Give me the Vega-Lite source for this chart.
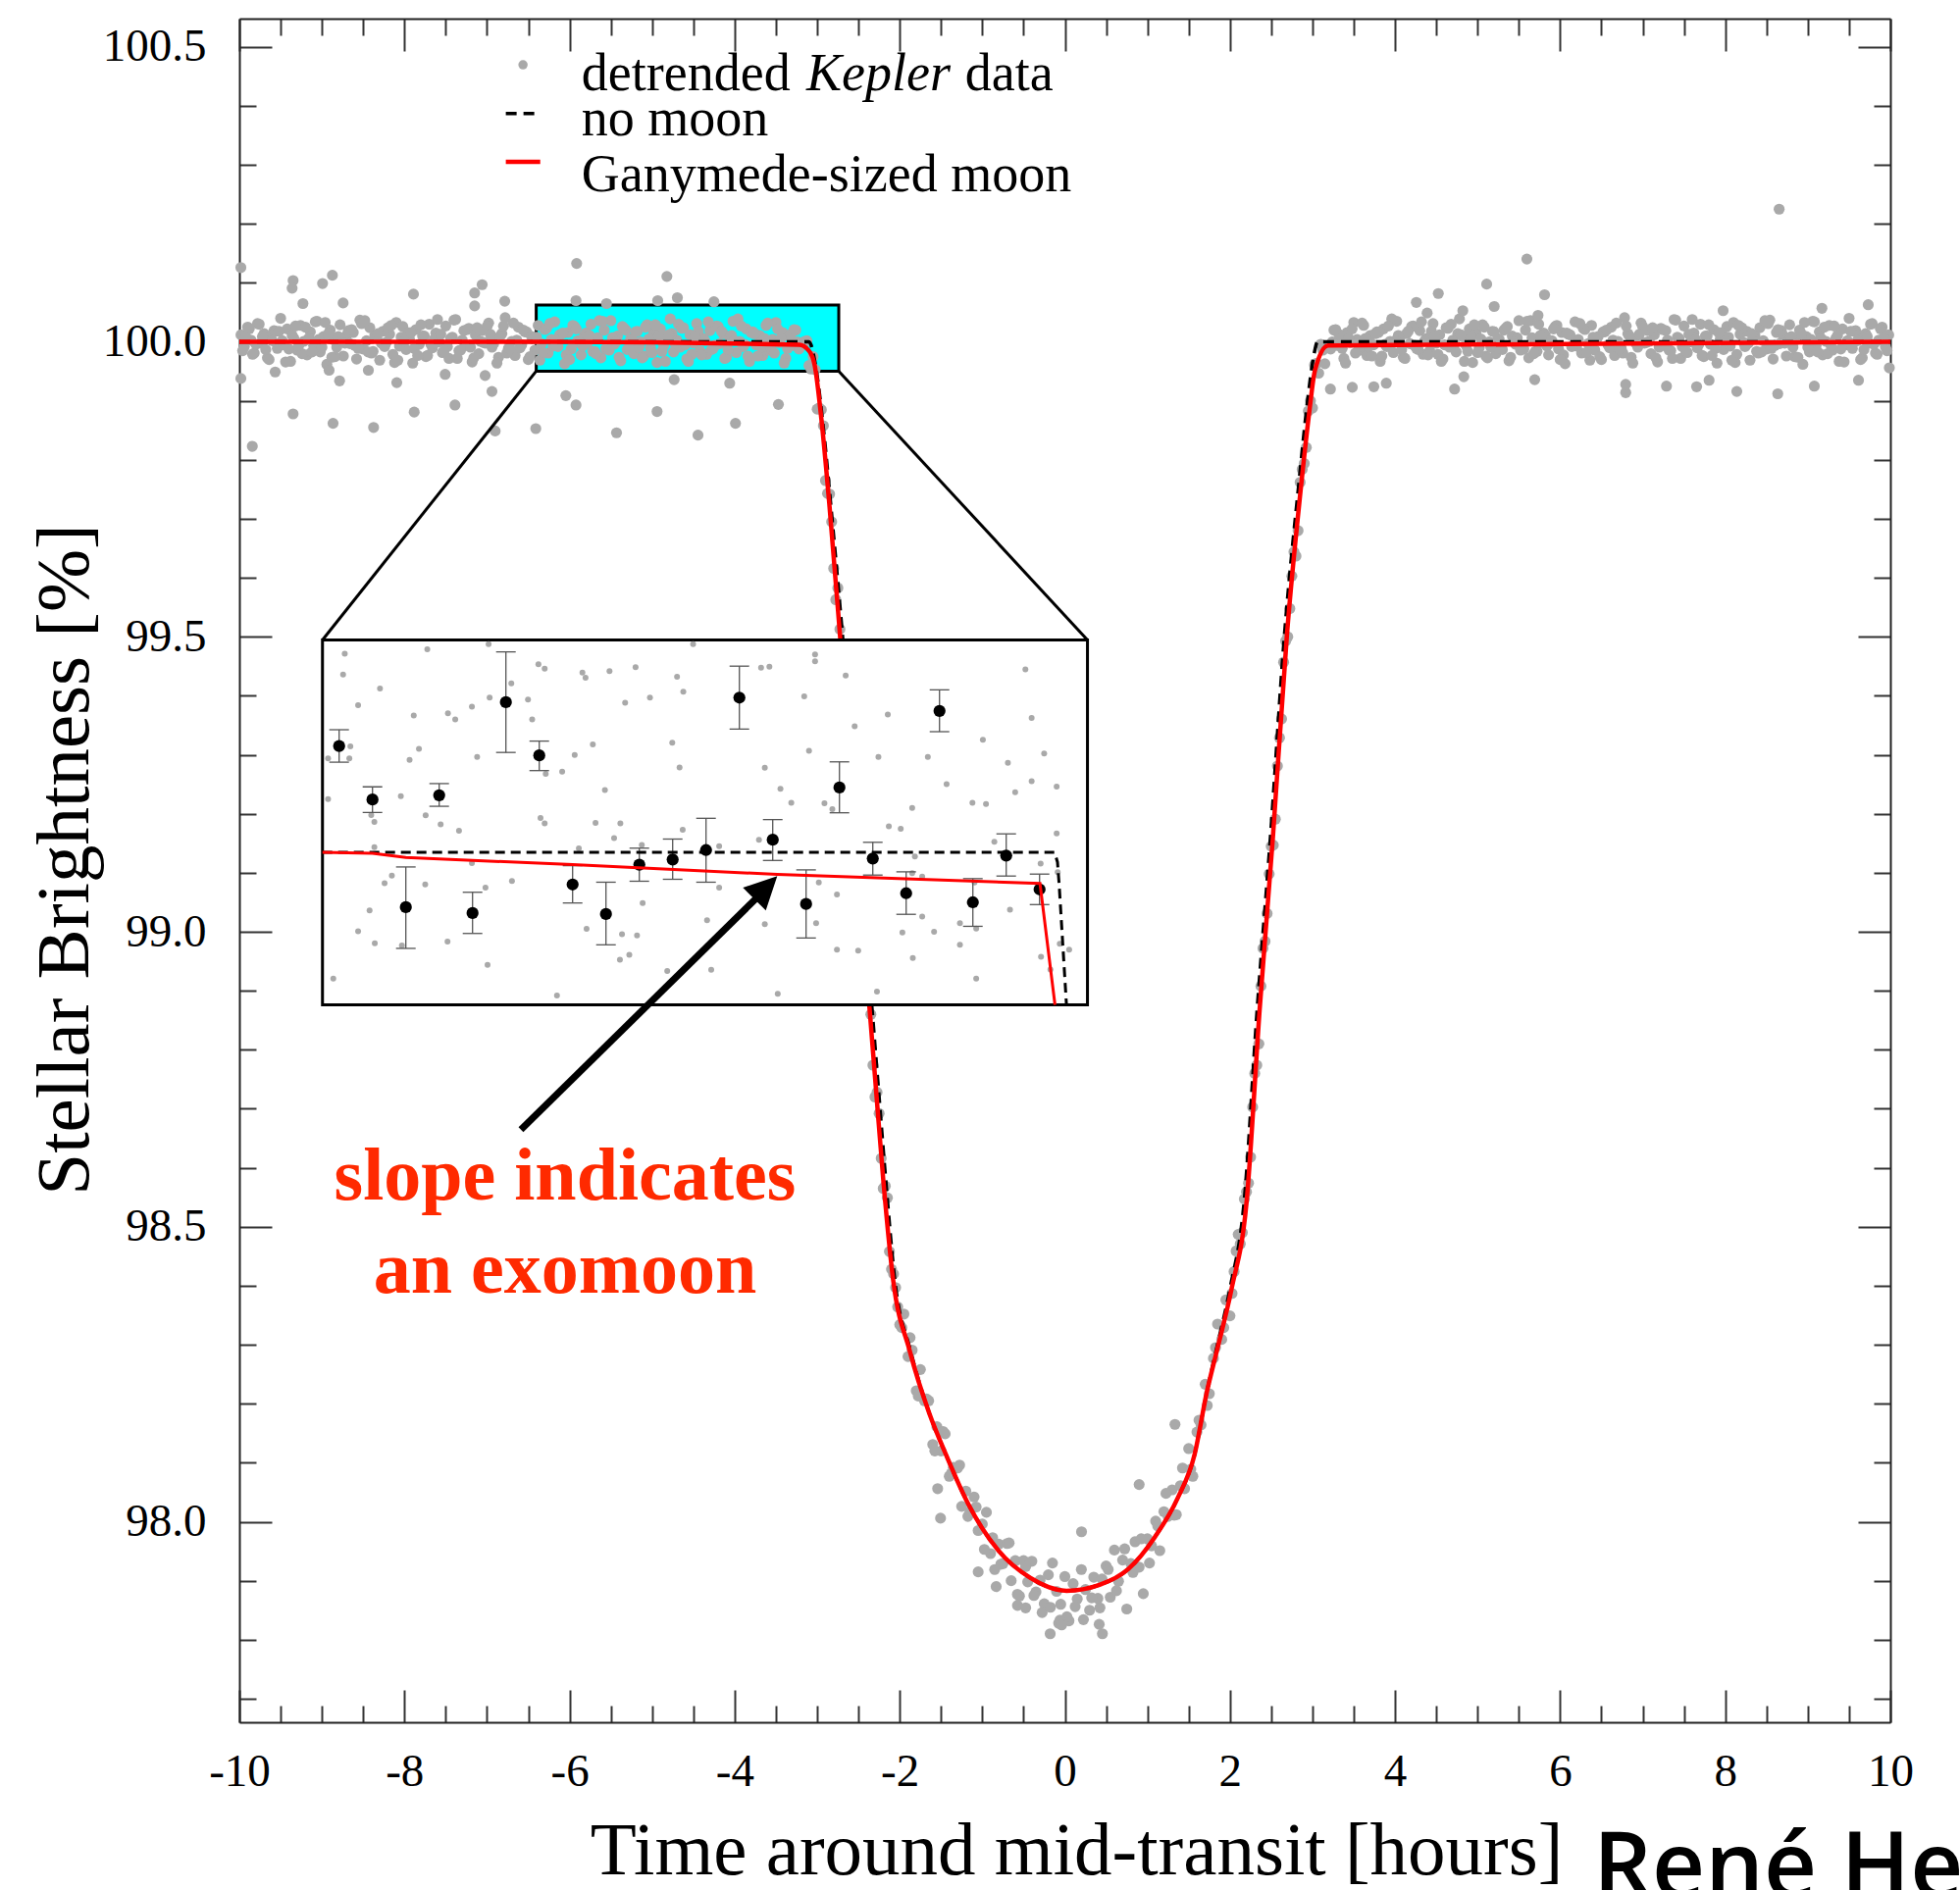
{
"$schema": "https://vega.github.io/schema/vega-lite/v6.json",
"width": 1683, "height": 1737,
"autosize": {"type": "none"},
"padding": {"left": 244, "top": 19, "right": 71, "bottom": 171},
"background": "white",
"config": {"view": {"stroke": null}},
"datasets": {
"one": [{}],
"kep": [
{"t":-9.98,"f":100.012},{"t":-9.94,"f":99.992},{"t":-9.90,"f":100.025},{"t":-9.86,"f":100.003},{"t":-9.82,"f":99.981},{"t":-9.78,"f":100.031},{"t":-9.74,"f":99.998},{"t":-9.70,"f":100.014},{"t":-9.66,"f":99.973},{"t":-9.62,"f":100.008},
{"t":-9.58,"f":100.019},{"t":-9.54,"f":99.989},{"t":-9.50,"f":100.040},{"t":-9.46,"f":99.995},{"t":-9.42,"f":100.022},{"t":-9.38,"f":99.967},{"t":-9.34,"f":100.006},{"t":-9.30,"f":99.986},{"t":-9.26,"f":100.028},{"t":-9.22,"f":100.001},
{"t":-9.18,"f":99.978},{"t":-9.14,"f":100.017},{"t":-9.10,"f":99.994},{"t":-9.06,"f":100.035},{"t":-9.02,"f":99.983},{"t":-8.98,"f":100.009},{"t":-8.94,"f":99.962},{"t":-8.90,"f":100.020},{"t":-8.86,"f":100.004},{"t":-8.82,"f":99.991},
{"t":-8.78,"f":100.029},{"t":-8.74,"f":99.976},{"t":-8.70,"f":100.011},{"t":-8.66,"f":99.997},{"t":-8.62,"f":100.016},{"t":-8.58,"f":99.971},{"t":-8.54,"f":100.037},{"t":-8.50,"f":99.988},{"t":-8.46,"f":100.002},{"t":-8.42,"f":100.024},
{"t":-8.38,"f":99.984},{"t":-8.34,"f":100.007},{"t":-8.30,"f":99.969},{"t":-8.26,"f":100.018},{"t":-8.22,"f":99.999},{"t":-8.18,"f":100.013},{"t":-8.14,"f":99.979},{"t":-8.10,"f":100.033},{"t":-8.06,"f":99.993},{"t":-8.02,"f":100.026},
{"t":-7.98,"f":99.987},{"t":-7.94,"f":100.005},{"t":-7.90,"f":99.964},{"t":-7.86,"f":100.021},{"t":-7.82,"f":99.996},{"t":-7.78,"f":100.010},{"t":-7.74,"f":99.975},{"t":-7.70,"f":100.030},{"t":-7.66,"f":99.990},{"t":-7.62,"f":100.015},
{"t":-7.58,"f":100.000},{"t":-7.54,"f":99.982},{"t":-7.50,"f":100.027},{"t":-7.46,"f":99.972},{"t":-7.42,"f":100.008},{"t":-7.38,"f":100.038},{"t":-7.34,"f":99.985},{"t":-7.30,"f":100.003},{"t":-7.26,"f":99.994},{"t":-7.22,"f":100.023},
{"t":-7.18,"f":99.966},{"t":-7.14,"f":100.012},{"t":-7.10,"f":99.980},{"t":-7.06,"f":100.019},{"t":-7.02,"f":99.998},{"t":-6.98,"f":100.032},{"t":-6.94,"f":99.991},{"t":-6.90,"f":100.006},{"t":-6.86,"f":99.974},{"t":-6.82,"f":100.014},
{"t":-6.78,"f":100.041},{"t":-6.74,"f":99.989},{"t":-6.70,"f":100.001},{"t":-6.66,"f":99.977},{"t":-6.62,"f":100.025},{"t":-6.58,"f":99.995},{"t":-6.54,"f":100.017},{"t":-6.50,"f":99.970},{"t":-6.46,"f":100.009},{"t":-6.42,"f":99.986},
{"t":-6.38,"f":100.028},{"t":-6.34,"f":99.997},{"t":-6.30,"f":100.021},{"t":-6.26,"f":99.981},{"t":-6.22,"f":100.004},{"t":-6.18,"f":100.034},{"t":-6.14,"f":99.992},{"t":-6.10,"f":100.013},{"t":-6.06,"f":99.963},{"t":-6.02,"f":100.016},
{"t":-5.98,"f":99.988},{"t":-5.94,"f":100.026},{"t":-5.90,"f":100.002},{"t":-5.86,"f":99.978},{"t":-5.82,"f":100.011},{"t":-5.78,"f":99.999},{"t":-5.74,"f":100.030},{"t":-5.70,"f":99.984},{"t":-5.66,"f":100.007},{"t":-5.62,"f":99.973},
{"t":-5.58,"f":100.020},{"t":-5.54,"f":99.993},{"t":-5.50,"f":100.036},{"t":-5.46,"f":99.996},{"t":-5.42,"f":100.010},{"t":-5.38,"f":99.968},{"t":-5.34,"f":100.023},{"t":-5.30,"f":99.987},{"t":-5.26,"f":100.005},{"t":-5.22,"f":99.980},
{"t":-5.18,"f":100.018},{"t":-5.14,"f":100.000},{"t":-5.10,"f":99.976},{"t":-5.06,"f":100.029},{"t":-5.02,"f":99.990},{"t":-4.98,"f":100.015},{"t":-4.94,"f":99.965},{"t":-4.90,"f":100.022},{"t":-4.86,"f":99.994},{"t":-4.82,"f":100.009},
{"t":-4.78,"f":100.039},{"t":-4.74,"f":99.983},{"t":-4.70,"f":100.003},{"t":-4.66,"f":99.991},{"t":-4.62,"f":100.024},{"t":-4.58,"f":99.971},{"t":-4.54,"f":100.012},{"t":-4.50,"f":99.998},{"t":-4.46,"f":100.031},{"t":-4.42,"f":99.985},
{"t":-4.38,"f":100.006},{"t":-4.34,"f":99.979},{"t":-4.30,"f":100.019},{"t":-4.26,"f":99.989},{"t":-4.22,"f":100.027},{"t":-4.18,"f":99.997},{"t":-4.14,"f":100.014},{"t":-4.10,"f":99.974},{"t":-4.06,"f":100.008},{"t":-4.02,"f":100.035},
{"t":-3.98,"f":99.982},{"t":-3.94,"f":100.001},{"t":-3.90,"f":99.992},{"t":-3.86,"f":100.022},{"t":-3.82,"f":99.967},{"t":-3.78,"f":100.017},{"t":-3.74,"f":99.995},{"t":-3.70,"f":100.011},{"t":-3.66,"f":99.977},{"t":-3.62,"f":100.028},
{"t":-3.58,"f":99.986},{"t":-3.54,"f":100.004},{"t":-3.50,"f":100.033},{"t":-3.46,"f":99.999},{"t":-3.42,"f":100.016},{"t":-3.38,"f":99.972},{"t":-3.34,"f":100.010},{"t":-3.30,"f":99.994},{"t":-3.26,"f":100.020},{"t":-3.22,"f":99.988},
{"t":-9.96,"f":99.985},{"t":-9.88,"f":100.022},{"t":-9.80,"f":99.996},{"t":-9.72,"f":100.009},{"t":-9.64,"f":99.970},{"t":-9.56,"f":100.018},{"t":-9.48,"f":100.002},{"t":-9.40,"f":99.988},{"t":-9.32,"f":100.027},{"t":-9.24,"f":99.980},
{"t":-9.16,"f":100.006},{"t":-9.08,"f":100.034},{"t":-9.00,"f":99.991},{"t":-8.92,"f":100.014},{"t":-8.84,"f":99.975},{"t":-8.76,"f":100.000},{"t":-8.68,"f":100.019},{"t":-8.60,"f":99.994},{"t":-8.52,"f":100.031},{"t":-8.44,"f":99.983},
{"t":-8.36,"f":100.011},{"t":-8.28,"f":99.998},{"t":-8.20,"f":100.024},{"t":-8.12,"f":99.965},{"t":-8.04,"f":100.008},{"t":-7.96,"f":100.016},{"t":-7.88,"f":99.989},{"t":-7.80,"f":100.029},{"t":-7.72,"f":99.977},{"t":-7.64,"f":100.004},
{"t":-7.56,"f":100.013},{"t":-7.48,"f":99.992},{"t":-7.40,"f":100.037},{"t":-7.32,"f":99.986},{"t":-7.24,"f":100.021},{"t":-7.16,"f":99.973},{"t":-7.08,"f":100.001},{"t":-7.00,"f":100.026},{"t":-6.92,"f":99.997},{"t":-6.84,"f":100.010},
{"t":-6.76,"f":99.981},{"t":-6.68,"f":100.032},{"t":-6.60,"f":99.990},{"t":-6.52,"f":100.017},{"t":-6.44,"f":100.005},{"t":-6.36,"f":99.969},{"t":-6.28,"f":100.023},{"t":-6.20,"f":99.993},{"t":-6.12,"f":100.012},{"t":-6.04,"f":99.978},
{"t":-5.96,"f":100.028},{"t":-5.88,"f":99.999},{"t":-5.80,"f":100.015},{"t":-5.72,"f":99.984},{"t":-5.64,"f":100.036},{"t":-5.56,"f":99.988},{"t":-5.48,"f":100.007},{"t":-5.40,"f":99.974},{"t":-5.32,"f":100.020},{"t":-5.24,"f":100.003},
{"t":-5.16,"f":99.991},{"t":-5.08,"f":100.025},{"t":-5.00,"f":99.982},{"t":-4.92,"f":100.009},{"t":-4.84,"f":99.967},{"t":-4.76,"f":100.014},{"t":-4.68,"f":100.030},{"t":-4.60,"f":99.995},{"t":-4.52,"f":99.979},{"t":-4.44,"f":100.018},
{"t":-4.36,"f":100.002},{"t":-4.28,"f":99.987},{"t":-4.20,"f":100.026},{"t":-4.12,"f":99.972},{"t":-4.04,"f":100.011},{"t":-3.96,"f":100.039},{"t":-3.88,"f":99.996},{"t":-3.80,"f":100.016},{"t":-3.72,"f":99.976},{"t":-3.64,"f":100.006},
{"t":-3.56,"f":99.989},{"t":-3.48,"f":100.022},{"t":-3.40,"f":99.964},{"t":-3.32,"f":100.013},{"t":-3.24,"f":100.000},
{"t":-9.92,"f":100.007},{"t":-9.84,"f":99.979},{"t":-9.76,"f":100.030},{"t":-9.68,"f":99.987},{"t":-9.60,"f":100.002},{"t":-9.52,"f":100.018},{"t":-9.44,"f":99.966},{"t":-9.36,"f":100.011},{"t":-9.28,"f":99.994},{"t":-9.20,"f":100.025},
{"t":-9.12,"f":99.983},{"t":-9.04,"f":100.004},{"t":-8.96,"f":100.033},{"t":-8.88,"f":99.974},{"t":-8.80,"f":100.009},{"t":-8.72,"f":99.998},{"t":-8.64,"f":100.021},{"t":-8.56,"f":99.989},{"t":-8.48,"f":100.036},{"t":-8.40,"f":99.981},
{"t":-8.32,"f":100.014},{"t":-8.24,"f":99.992},{"t":-8.16,"f":100.028},{"t":-8.08,"f":99.969},{"t":-8.00,"f":100.001},{"t":-7.92,"f":100.016},{"t":-7.84,"f":99.977},{"t":-7.76,"f":100.010},{"t":-7.68,"f":99.996},{"t":-7.60,"f":100.038},
{"t":-7.52,"f":99.985},{"t":-7.44,"f":100.006},{"t":-7.36,"f":99.972},{"t":-7.28,"f":100.019},{"t":-7.20,"f":99.991},{"t":-7.12,"f":100.024},{"t":-7.04,"f":99.999},{"t":-6.96,"f":100.013},{"t":-6.88,"f":99.964},{"t":-6.80,"f":100.027},
{"t":-6.72,"f":99.988},{"t":-6.64,"f":100.003},{"t":-6.56,"f":100.020},{"t":-6.48,"f":99.975},{"t":-6.40,"f":100.008},{"t":-6.32,"f":99.982},{"t":-6.24,"f":100.031},{"t":-6.16,"f":99.995},{"t":-6.08,"f":100.015},{"t":-6.00,"f":99.970},
{"t":-5.92,"f":100.022},{"t":-5.84,"f":99.993},{"t":-5.76,"f":100.011},{"t":-5.68,"f":99.980},{"t":-5.60,"f":100.035},{"t":-5.52,"f":99.986},{"t":-5.44,"f":100.000},{"t":-5.36,"f":100.026},{"t":-5.28,"f":99.990},{"t":-5.20,"f":100.017},
{"t":-5.12,"f":99.973},{"t":-5.04,"f":100.005},{"t":-4.96,"f":100.029},{"t":-4.88,"f":99.984},{"t":-4.80,"f":100.012},{"t":-4.72,"f":99.997},{"t":-4.64,"f":100.023},{"t":-4.56,"f":99.967},{"t":-4.48,"f":100.009},{"t":-4.40,"f":99.978},
{"t":-4.32,"f":100.034},{"t":-4.24,"f":99.994},{"t":-4.16,"f":100.018},{"t":-4.08,"f":99.987},{"t":-4.00,"f":100.002},{"t":-3.92,"f":100.027},{"t":-3.84,"f":99.976},{"t":-3.76,"f":100.014},{"t":-3.68,"f":99.992},{"t":-3.60,"f":100.032},
{"t":-3.52,"f":99.981},{"t":-3.44,"f":100.006},{"t":-3.36,"f":99.989},{"t":-3.28,"f":100.021},
{"t":-9.982,"f":100.126},{"t":-9.349,"f":100.104},{"t":-9.361,"f":100.091},{"t":-8.992,"f":100.099},{"t":-8.873,"f":100.113},{"t":-9.23,"f":100.065},{"t":-8.743,"f":100.066},{"t":-7.891,"f":100.081},{"t":-7.059,"f":100.097},{"t":-7.15,"f":100.083},
{"t":-7.15,"f":100.061},{"t":-6.785,"f":100.069},{"t":-5.914,"f":100.133},{"t":-4.821,"f":100.111},{"t":-4.694,"f":100.075},{"t":-5.922,"f":100.07},{"t":-5.553,"f":100.065},{"t":-4.932,"f":100.07},{"t":-4.251,"f":100.068},{"t":-9.843,"f":99.823},
{"t":-9.349,"f":99.878},{"t":-8.865,"f":99.862},{"t":-8.374,"f":99.855},{"t":-7.882,"f":99.881},{"t":-7.388,"f":99.893},{"t":-6.901,"f":99.849},{"t":-6.94,"f":99.916},{"t":-6.409,"f":99.853},{"t":-6.045,"f":99.909},{"t":-5.922,"f":99.893},
{"t":-5.431,"f":99.846},{"t":-4.94,"f":99.882},{"t":-4.444,"f":99.842},{"t":-4.733,"f":99.936},{"t":-4.06,"f":99.93},{"t":-9.982,"f":99.938},{"t":-8.786,"f":99.934},{"t":-8.093,"f":99.931},{"t":-7.023,"f":99.943},{"t":-9.566,"f":99.949},
{"t":-8.913,"f":99.952},{"t":-8.437,"f":99.952},{"t":-7.507,"f":99.945},{"t":-3.99,"f":99.862},{"t":-3.47,"f":99.894},
{"t":-3.15,"f":100.001},{"t":-3.10,"f":99.960},{"t":-3.05,"f":99.975},{"t":-3.00,"f":99.886},{"t":-2.95,"f":99.885},{"t":-2.90,"f":99.765},{"t":-2.85,"f":99.742},{"t":-2.80,"f":99.616},{"t":-2.75,"f":99.583},{"t":-2.70,"f":99.448},
{"t":-2.65,"f":99.398},{"t":-2.60,"f":99.235},{"t":-2.55,"f":99.200},{"t":-2.50,"f":99.083},{"t":-2.45,"f":99.046},{"t":-2.40,"f":98.921},{"t":-2.35,"f":98.860},{"t":-2.30,"f":98.720},{"t":-2.25,"f":98.692},{"t":-2.20,"f":98.565},
{"t":-2.15,"f":98.549},{"t":-2.10,"f":98.428},{"t":-2.05,"f":98.397},{"t":-2.00,"f":98.334},{"t":-1.95,"f":98.352},{"t":-1.90,"f":98.280},{"t":-1.85,"f":98.291},{"t":-1.80,"f":98.222},{"t":-1.75,"f":98.258},{"t":-1.70,"f":98.205},
{"t":-1.65,"f":98.205},{"t":-1.60,"f":98.131},{"t":-1.55,"f":98.161},{"t":-1.50,"f":98.120},{"t":-1.45,"f":98.149},{"t":-1.40,"f":98.077},{"t":-1.35,"f":98.092},{"t":-1.30,"f":98.091},{"t":-1.25,"f":98.026},{"t":-1.20,"f":98.052},
{"t":-1.15,"f":98.017},{"t":-1.10,"f":98.042},{"t":-1.05,"f":97.985},{"t":-1.00,"f":97.996},{"t":-0.95,"f":98.016},{"t":-0.90,"f":97.946},{"t":-0.85,"f":97.919},{"t":-0.80,"f":97.962},{"t":-0.75,"f":97.929},{"t":-0.70,"f":97.963},
{"t":-0.65,"f":97.900},{"t":-0.60,"f":97.934},{"t":-0.55,"f":97.874},{"t":-0.50,"f":97.934},{"t":-0.45,"f":97.898},{"t":-0.40,"f":97.933},{"t":-0.35,"f":97.881},{"t":-0.30,"f":97.901},{"t":-0.25,"f":97.861},{"t":-0.20,"f":97.910},
{"t":-0.15,"f":97.930},{"t":-0.10,"f":97.882},{"t":-0.05,"f":97.860},{"t":0.00,"f":97.907},{"t":0.05,"f":97.832},{"t":0.10,"f":97.895},{"t":0.15,"f":97.869},{"t":0.20,"f":97.919},{"t":0.25,"f":97.885},{"t":0.30,"f":97.850},
{"t":0.35,"f":97.906},{"t":0.40,"f":97.870},{"t":0.45,"f":97.903},{"t":0.50,"f":97.925},{"t":0.55,"f":97.872},{"t":0.60,"f":97.952},{"t":0.65,"f":97.899},{"t":0.70,"f":97.935},{"t":0.75,"f":97.852},{"t":0.80,"f":97.929},
{"t":0.85,"f":97.966},{"t":0.90,"f":97.923},{"t":0.95,"f":97.878},{"t":1.00,"f":97.971},{"t":1.05,"f":97.959},{"t":1.10,"f":98.001},{"t":1.15,"f":97.951},{"t":1.20,"f":98.017},{"t":1.25,"f":98.009},{"t":1.30,"f":98.054},
{"t":1.35,"f":98.012},{"t":1.40,"f":98.061},{"t":1.45,"f":98.056},{"t":1.50,"f":98.124},{"t":1.55,"f":98.077},{"t":1.60,"f":98.152},{"t":1.65,"f":98.164},{"t":1.70,"f":98.233},{"t":1.75,"f":98.217},{"t":1.80,"f":98.277},
{"t":1.85,"f":98.335},{"t":1.90,"f":98.309},{"t":1.95,"f":98.376},{"t":2.00,"f":98.349},{"t":2.05,"f":98.424},{"t":2.10,"f":98.487},{"t":2.15,"f":98.490},{"t":2.20,"f":98.559},{"t":2.25,"f":98.618},{"t":2.30,"f":98.760},
{"t":2.35,"f":98.810},{"t":2.40,"f":98.972},{"t":2.45,"f":99.031},{"t":2.50,"f":99.145},{"t":2.55,"f":99.191},{"t":2.60,"f":99.329},{"t":2.65,"f":99.457},{"t":2.70,"f":99.500},{"t":2.75,"f":99.603},{"t":2.80,"f":99.637},
{"t":2.85,"f":99.762},{"t":2.90,"f":99.794},{"t":2.95,"f":99.883},{"t":3.00,"f":99.888},{"t":3.05,"f":99.964},{"t":3.10,"f":99.996},{"t":3.15,"f":99.963},
{"t":-1.975,"f":98.329},{"t":-1.875,"f":98.312},{"t":-1.775,"f":98.213},{"t":-1.675,"f":98.208},{"t":-1.575,"f":98.120},{"t":-1.475,"f":98.153},{"t":-1.375,"f":98.082},{"t":-1.275,"f":98.096},{"t":-1.175,"f":98.009},{"t":-1.075,"f":98.025},
{"t":-0.975,"f":97.953},{"t":-0.875,"f":97.973},{"t":-0.775,"f":97.928},{"t":-0.675,"f":97.964},{"t":-0.575,"f":97.877},{"t":-0.475,"f":97.924},{"t":-0.375,"f":97.875},{"t":-0.275,"f":97.846},{"t":-0.175,"f":97.855},{"t":-0.075,"f":97.828},
{"t":0.025,"f":97.839},{"t":0.125,"f":97.856},{"t":0.225,"f":97.834},{"t":0.325,"f":97.871},{"t":0.425,"f":97.854},{"t":0.525,"f":97.919},{"t":0.625,"f":97.883},{"t":0.725,"f":97.954},{"t":0.825,"f":97.914},{"t":0.925,"f":97.971},
{"t":1.025,"f":97.930},{"t":1.125,"f":97.993},{"t":1.225,"f":98.048},{"t":1.325,"f":98.011},{"t":1.425,"f":98.091},{"t":1.525,"f":98.089},{"t":1.625,"f":98.172},{"t":1.725,"f":98.197},{"t":1.825,"f":98.295},{"t":1.925,"f":98.329},
{"t":-3.125,"f":100.002},{"t":-3.075,"f":99.954},{"t":-3.025,"f":99.953},{"t":-2.975,"f":99.888},{"t":-2.925,"f":99.858},{"t":-2.875,"f":99.743},{"t":-2.825,"f":99.695},{"t":-2.775,"f":99.563},{"t":-2.725,"f":99.513},{"t":-2.675,"f":99.436},
{"t":-2.625,"f":99.313},{"t":-2.575,"f":99.265},{"t":-2.525,"f":99.141},{"t":-2.475,"f":99.074},{"t":-2.425,"f":98.953},{"t":-2.375,"f":98.897},{"t":-2.325,"f":98.774},{"t":-2.275,"f":98.728},{"t":-2.225,"f":98.616},{"t":-2.175,"f":98.569},
{"t":-2.125,"f":98.458},{"t":-2.075,"f":98.420},{"t":-2.025,"f":98.364},
{"t":2.025,"f":98.387},{"t":2.075,"f":98.459},{"t":2.125,"f":98.471},{"t":2.175,"f":98.547},{"t":2.225,"f":98.574},{"t":2.275,"f":98.703},{"t":2.325,"f":98.774},{"t":2.375,"f":98.908},{"t":2.425,"f":98.984},{"t":2.475,"f":99.098},
{"t":2.525,"f":99.147},{"t":2.575,"f":99.281},{"t":2.625,"f":99.361},{"t":2.675,"f":99.493},{"t":2.725,"f":99.548},{"t":2.775,"f":99.644},{"t":2.825,"f":99.680},{"t":2.875,"f":99.784},{"t":2.925,"f":99.821},{"t":2.975,"f":99.900},
{"t":3.025,"f":99.961},{"t":3.075,"f":99.947},{"t":3.125,"f":99.986},
{"t":-0.178,"f":97.810},{"t":0.455,"f":97.810},{"t":0.416,"f":97.826},{"t":0.202,"f":97.983},{"t":0.9,"f":98.063},{"t":1.334,"f":98.165},{"t":-1.506,"f":98.006},{"t":-1.541,"f":98.056},{"t":-0.574,"f":97.858},{"t":-0.475,"f":97.854},
{"t":-0.059,"f":97.833},{"t":-0.039,"f":97.825},{"t":-1.05,"f":97.915},{"t":-0.832,"f":97.890},
{"t":3.22,"f":99.988},{"t":3.26,"f":100.020},{"t":3.30,"f":99.994},{"t":3.34,"f":100.010},{"t":3.38,"f":99.972},{"t":3.42,"f":100.016},{"t":3.46,"f":99.999},{"t":3.50,"f":100.033},{"t":3.54,"f":100.004},{"t":3.58,"f":99.986},
{"t":3.62,"f":100.028},{"t":3.66,"f":99.977},{"t":3.70,"f":100.011},{"t":3.74,"f":99.995},{"t":3.78,"f":100.017},{"t":3.82,"f":99.967},{"t":3.86,"f":100.022},{"t":3.90,"f":99.992},{"t":3.94,"f":100.001},{"t":3.98,"f":99.982},
{"t":4.02,"f":100.035},{"t":4.06,"f":100.008},{"t":4.10,"f":99.974},{"t":4.14,"f":100.014},{"t":4.18,"f":99.997},{"t":4.22,"f":100.027},{"t":4.26,"f":99.989},{"t":4.30,"f":100.019},{"t":4.34,"f":99.979},{"t":4.38,"f":100.006},
{"t":4.42,"f":99.985},{"t":4.46,"f":100.031},{"t":4.50,"f":99.998},{"t":4.54,"f":100.012},{"t":4.58,"f":99.971},{"t":4.62,"f":100.024},{"t":4.66,"f":99.991},{"t":4.70,"f":100.003},{"t":4.74,"f":99.983},{"t":4.78,"f":100.039},
{"t":4.82,"f":100.009},{"t":4.86,"f":99.994},{"t":4.90,"f":100.022},{"t":4.94,"f":99.965},{"t":4.98,"f":100.015},{"t":5.02,"f":99.990},{"t":5.06,"f":100.029},{"t":5.10,"f":99.976},{"t":5.14,"f":100.000},{"t":5.18,"f":100.018},
{"t":5.22,"f":99.980},{"t":5.26,"f":100.005},{"t":5.30,"f":99.987},{"t":5.34,"f":100.023},{"t":5.38,"f":99.968},{"t":5.42,"f":100.010},{"t":5.46,"f":99.996},{"t":5.50,"f":100.036},{"t":5.54,"f":99.993},{"t":5.58,"f":100.020},
{"t":5.62,"f":99.973},{"t":5.66,"f":100.007},{"t":5.70,"f":99.984},{"t":5.74,"f":100.030},{"t":5.78,"f":99.999},{"t":5.82,"f":100.011},{"t":5.86,"f":99.978},{"t":5.90,"f":100.002},{"t":5.94,"f":100.026},{"t":5.98,"f":99.988},
{"t":6.02,"f":100.016},{"t":6.06,"f":99.963},{"t":6.10,"f":100.013},{"t":6.14,"f":99.992},{"t":6.18,"f":100.034},{"t":6.22,"f":100.004},{"t":6.26,"f":99.981},{"t":6.30,"f":100.021},{"t":6.34,"f":99.997},{"t":6.38,"f":100.028},
{"t":6.42,"f":99.986},{"t":6.46,"f":100.009},{"t":6.50,"f":99.970},{"t":6.54,"f":100.017},{"t":6.58,"f":99.995},{"t":6.62,"f":100.025},{"t":6.66,"f":99.977},{"t":6.70,"f":100.001},{"t":6.74,"f":99.989},{"t":6.78,"f":100.041},
{"t":6.82,"f":100.014},{"t":6.86,"f":99.974},{"t":6.90,"f":100.006},{"t":6.94,"f":99.991},{"t":6.98,"f":100.032},{"t":7.02,"f":99.998},{"t":7.06,"f":100.019},{"t":7.10,"f":99.980},{"t":7.14,"f":100.012},{"t":7.18,"f":99.966},
{"t":7.22,"f":100.023},{"t":7.26,"f":99.994},{"t":7.30,"f":100.003},{"t":7.34,"f":99.985},{"t":7.38,"f":100.038},{"t":7.42,"f":100.008},{"t":7.46,"f":99.972},{"t":7.50,"f":100.027},{"t":7.54,"f":99.982},{"t":7.58,"f":100.000},
{"t":7.62,"f":100.015},{"t":7.66,"f":99.990},{"t":7.70,"f":100.030},{"t":7.74,"f":99.975},{"t":7.78,"f":100.010},{"t":7.82,"f":99.996},{"t":7.86,"f":100.021},{"t":7.90,"f":99.964},{"t":7.94,"f":100.005},{"t":7.98,"f":99.987},
{"t":8.02,"f":100.026},{"t":8.06,"f":99.993},{"t":8.10,"f":100.033},{"t":8.14,"f":99.979},{"t":8.18,"f":100.013},{"t":8.22,"f":99.999},{"t":8.26,"f":100.018},{"t":8.30,"f":99.969},{"t":8.34,"f":100.007},{"t":8.38,"f":99.984},
{"t":8.42,"f":100.024},{"t":8.46,"f":100.002},{"t":8.50,"f":99.988},{"t":8.54,"f":100.037},{"t":8.58,"f":99.971},{"t":8.62,"f":100.016},{"t":8.66,"f":99.997},{"t":8.70,"f":100.011},{"t":8.74,"f":99.976},{"t":8.78,"f":100.029},
{"t":8.82,"f":99.991},{"t":8.86,"f":100.004},{"t":8.90,"f":100.020},{"t":8.94,"f":99.962},{"t":8.98,"f":100.009},{"t":9.02,"f":99.983},{"t":9.06,"f":100.035},{"t":9.10,"f":99.994},{"t":9.14,"f":100.017},{"t":9.18,"f":99.978},
{"t":9.22,"f":100.001},{"t":9.26,"f":100.028},{"t":9.30,"f":99.986},{"t":9.34,"f":100.006},{"t":9.38,"f":99.967},{"t":9.42,"f":100.022},{"t":9.46,"f":99.995},{"t":9.50,"f":100.040},{"t":9.54,"f":99.989},{"t":9.58,"f":100.019},
{"t":9.62,"f":100.008},{"t":9.66,"f":99.973},{"t":9.70,"f":100.014},{"t":9.74,"f":99.998},{"t":9.78,"f":100.031},{"t":9.82,"f":99.981},{"t":9.86,"f":100.003},{"t":9.90,"f":100.025},{"t":9.94,"f":99.992},{"t":9.98,"f":100.012},
{"t":3.24,"f":100.000},{"t":3.32,"f":100.013},{"t":3.40,"f":99.964},{"t":3.48,"f":100.022},{"t":3.56,"f":99.989},{"t":3.64,"f":100.006},{"t":3.72,"f":99.976},{"t":3.80,"f":100.016},{"t":3.88,"f":99.996},{"t":3.96,"f":100.039},
{"t":4.04,"f":100.011},{"t":4.12,"f":99.972},{"t":4.20,"f":100.026},{"t":4.28,"f":99.987},{"t":4.36,"f":100.002},{"t":4.44,"f":100.018},{"t":4.52,"f":99.979},{"t":4.60,"f":99.995},{"t":4.68,"f":100.030},{"t":4.76,"f":100.014},
{"t":4.84,"f":99.967},{"t":4.92,"f":100.009},{"t":5.00,"f":99.982},{"t":5.08,"f":100.025},{"t":5.16,"f":99.991},{"t":5.24,"f":100.003},{"t":5.32,"f":100.020},{"t":5.40,"f":99.974},{"t":5.48,"f":100.007},{"t":5.56,"f":99.988},
{"t":5.64,"f":100.036},{"t":5.72,"f":99.984},{"t":5.80,"f":100.015},{"t":5.88,"f":99.999},{"t":5.96,"f":100.028},{"t":6.04,"f":99.978},{"t":6.12,"f":100.012},{"t":6.20,"f":99.993},{"t":6.28,"f":100.023},{"t":6.36,"f":99.969},
{"t":6.44,"f":100.005},{"t":6.52,"f":100.017},{"t":6.60,"f":99.990},{"t":6.68,"f":100.032},{"t":6.76,"f":99.981},{"t":6.84,"f":100.010},{"t":6.92,"f":99.997},{"t":7.00,"f":100.026},{"t":7.08,"f":100.001},{"t":7.16,"f":99.973},
{"t":7.24,"f":100.021},{"t":7.32,"f":99.986},{"t":7.40,"f":100.037},{"t":7.48,"f":99.992},{"t":7.56,"f":100.013},{"t":7.64,"f":100.004},{"t":7.72,"f":99.977},{"t":7.80,"f":100.029},{"t":7.88,"f":99.989},{"t":7.96,"f":100.016},
{"t":8.04,"f":100.008},{"t":8.12,"f":99.965},{"t":8.20,"f":100.024},{"t":8.28,"f":99.998},{"t":8.36,"f":100.011},{"t":8.44,"f":99.983},{"t":8.52,"f":100.031},{"t":8.60,"f":99.994},{"t":8.68,"f":100.019},{"t":8.76,"f":100.000},
{"t":8.84,"f":99.975},{"t":8.92,"f":100.014},{"t":9.00,"f":99.991},{"t":9.08,"f":100.034},{"t":9.16,"f":100.006},{"t":9.24,"f":99.980},{"t":9.32,"f":100.027},{"t":9.40,"f":99.988},{"t":9.48,"f":100.002},{"t":9.56,"f":100.018},
{"t":9.64,"f":99.970},{"t":9.72,"f":100.009},{"t":9.80,"f":99.996},{"t":9.88,"f":100.022},{"t":9.96,"f":99.985},
{"t":3.28,"f":100.021},{"t":3.36,"f":99.989},{"t":3.44,"f":100.006},{"t":3.52,"f":99.981},{"t":3.60,"f":100.032},{"t":3.68,"f":99.992},{"t":3.76,"f":100.014},{"t":3.84,"f":99.976},{"t":3.92,"f":100.027},{"t":4.00,"f":100.002},
{"t":4.08,"f":99.987},{"t":4.16,"f":100.018},{"t":4.24,"f":99.994},{"t":4.32,"f":100.034},{"t":4.40,"f":99.978},{"t":4.48,"f":100.009},{"t":4.56,"f":99.967},{"t":4.64,"f":100.023},{"t":4.72,"f":99.997},{"t":4.80,"f":100.012},
{"t":4.88,"f":99.984},{"t":4.96,"f":100.029},{"t":5.04,"f":100.005},{"t":5.12,"f":99.973},{"t":5.20,"f":100.017},{"t":5.28,"f":99.990},{"t":5.36,"f":100.026},{"t":5.44,"f":100.000},{"t":5.52,"f":99.986},{"t":5.60,"f":100.035},
{"t":5.68,"f":99.980},{"t":5.76,"f":100.011},{"t":5.84,"f":99.993},{"t":5.92,"f":100.022},{"t":6.00,"f":99.970},{"t":6.08,"f":100.015},{"t":6.16,"f":99.995},{"t":6.24,"f":100.031},{"t":6.32,"f":99.982},{"t":6.40,"f":100.008},
{"t":6.48,"f":99.975},{"t":6.56,"f":100.020},{"t":6.64,"f":100.003},{"t":6.72,"f":99.988},{"t":6.80,"f":100.027},{"t":6.88,"f":99.964},{"t":6.96,"f":100.013},{"t":7.04,"f":99.999},{"t":7.12,"f":100.024},{"t":7.20,"f":99.991},
{"t":7.28,"f":100.019},{"t":7.36,"f":99.972},{"t":7.44,"f":100.006},{"t":7.52,"f":99.985},{"t":7.60,"f":100.038},{"t":7.68,"f":99.996},{"t":7.76,"f":100.010},{"t":7.84,"f":99.977},{"t":7.92,"f":100.016},{"t":8.00,"f":100.001},
{"t":8.08,"f":99.969},{"t":8.16,"f":100.028},{"t":8.24,"f":99.992},{"t":8.32,"f":100.014},{"t":8.40,"f":99.981},{"t":8.48,"f":100.036},{"t":8.56,"f":99.989},{"t":8.64,"f":100.021},{"t":8.72,"f":99.998},{"t":8.80,"f":100.009},
{"t":8.88,"f":99.974},{"t":8.96,"f":100.033},{"t":9.04,"f":100.004},{"t":9.12,"f":99.983},{"t":9.20,"f":100.025},{"t":9.28,"f":99.994},{"t":9.36,"f":100.011},{"t":9.44,"f":99.966},{"t":9.52,"f":100.018},{"t":9.60,"f":100.002},
{"t":9.68,"f":99.987},{"t":9.76,"f":100.030},{"t":9.84,"f":99.979},{"t":9.92,"f":100.007},
{"t":5.597,"f":100.1405},{"t":8.653,"f":100.225},{"t":5.110,"f":100.098},{"t":4.524,"f":100.082},{"t":4.258,"f":100.067},{"t":5.811,"f":100.080},{"t":5.201,"f":100.060},{"t":4.821,"f":100.053},{"t":5.732,"f":100.045},{"t":4.389,"f":100.049},
{"t":9.171,"f":100.057},{"t":9.732,"f":100.063},{"t":7.974,"f":100.053},{"t":4.721,"f":99.920},{"t":3.894,"f":99.930},{"t":5.692,"f":99.936},{"t":6.794,"f":99.914},{"t":6.794,"f":99.928},{"t":7.288,"f":99.925},{"t":7.653,"f":99.924},
{"t":8.140,"f":99.916},{"t":8.636,"f":99.912},{"t":9.079,"f":99.925},{"t":9.614,"f":99.935},{"t":7.804,"f":99.935},{"t":4.833,"f":99.941},{"t":3.743,"f":99.924},{"t":3.217,"f":99.920},{"t":3.482,"f":99.923},{"t":9.988,"f":99.956}
],
"red": [
{"t":-10,"f":100.0},{"t":-6.2,"f":100.0},{"t":-3.22,"f":99.995},{"t":-3.10,"f":99.985},{"t":-3.03,"f":99.960},{"t":-2.95,"f":99.870},{"t":-2.85,"f":99.720},{"t":-2.72,"f":99.496},{"t":-2.55,"f":99.190},{"t":-2.37,"f":98.877},
{"t":-2.29,"f":98.737},{"t":-2.20,"f":98.580},{"t":-2.08,"f":98.410},{"t":-1.88,"f":98.290},{"t":-1.64,"f":98.183},{"t":-1.45,"f":98.117},{"t":-1.17,"f":98.030},{"t":-0.81,"f":97.952},{"t":-0.42,"f":97.905},{"t":0.02,"f":97.883},
{"t":0.42,"f":97.893},{"t":0.77,"f":97.920},{"t":1.09,"f":97.974},{"t":1.37,"f":98.041},{"t":1.57,"f":98.113},{"t":1.72,"f":98.220},{"t":1.84,"f":98.289},{"t":2.02,"f":98.395},{"t":2.20,"f":98.540},{"t":2.36,"f":98.869},
{"t":2.52,"f":99.160},{"t":2.69,"f":99.503},{"t":2.87,"f":99.767},{"t":2.96,"f":99.880},{"t":3.03,"f":99.952},{"t":3.19,"f":99.994},{"t":10,"f":100.0}
],
"nm": [
{"t":-10,"f":100.0},{"t":-3.10,"f":100.0},{"t":-3.02,"f":99.960},{"t":-2.93,"f":99.860},{"t":-2.82,"f":99.700},{"t":-2.69,"f":99.496},{"t":-2.52,"f":99.190},{"t":-2.34,"f":98.877},{"t":-2.26,"f":98.737},{"t":-2.17,"f":98.580},
{"t":-2.06,"f":98.410},{"t":-1.87,"f":98.290},{"t":-1.64,"f":98.183},{"t":-1.45,"f":98.117},{"t":-1.17,"f":98.030},{"t":-0.81,"f":97.952},{"t":-0.42,"f":97.905},{"t":0.02,"f":97.883},{"t":0.42,"f":97.893},{"t":0.77,"f":97.920},
{"t":1.09,"f":97.974},{"t":1.37,"f":98.041},{"t":1.57,"f":98.113},{"t":1.72,"f":98.220},{"t":1.83,"f":98.289},{"t":2.00,"f":98.395},{"t":2.17,"f":98.540},{"t":2.33,"f":98.869},{"t":2.49,"f":99.160},{"t":2.66,"f":99.503},
{"t":2.84,"f":99.767},{"t":2.94,"f":99.900},{"t":3.02,"f":99.980},{"t":3.06,"f":100.0},{"t":10,"f":100.0}
],
"conn": [
{"t":-6.404,"f":99.9504,"t2":-8.993,"f2":99.4948},
{"t":-2.739,"f":99.9504,"t2":0.274,"f2":99.4948}
],
"ins": [
{"t":-6.293,"f":100.0612},{"t":-6.301,"f":100.0548},{"t":-6.124,"f":100.0505},{"t":-6.229,"f":100.0454},{"t":-5.897,"f":100.0626},{"t":-5.603,"f":100.0642},{"t":-5.962,"f":100.0422},{"t":-5.937,"f":100.0319},{"t":-5.982,"f":100.0285},{"t":-5.798,"f":100.0429},
{"t":-5.763,"f":100.0410},{"t":-5.683,"f":100.0449},{"t":-5.658,"f":100.0294},{"t":-5.598,"f":100.0477},{"t":-5.494,"f":100.0521},{"t":-5.414,"f":100.0471},{"t":-5.394,"f":100.0410},{"t":-5.364,"f":100.0580},{"t":-5.334,"f":100.0566},{"t":-5.153,"f":100.0554},
{"t":-5.138,"f":100.0538},{"t":-5.023,"f":100.0559},{"t":-4.898,"f":100.0571},{"t":-4.948,"f":100.0461},{"t":-4.829,"f":100.0477},{"t":-4.699,"f":100.0541},{"t":-4.669,"f":100.0495},{"t":-4.622,"f":100.0642},{"t":-4.722,"f":100.0338},{"t":-4.687,"f":100.0262},
{"t":-5.103,"f":100.0333},{"t":-5.190,"f":100.0300},{"t":-5.250,"f":100.0249},{"t":-5.329,"f":100.0242},{"t":-5.045,"f":100.0192},{"t":-4.037,"f":100.0610},{"t":-4.037,"f":100.0589},{"t":-4.296,"f":100.0569},{"t":-4.256,"f":100.0572},{"t":-3.890,"f":100.0545},
{"t":-4.089,"f":100.0481},{"t":-3.847,"f":100.0389},{"t":-3.688,"f":100.0425},{"t":-4.066,"f":100.0313},{"t":-4.278,"f":100.0261},{"t":-4.203,"f":100.0196},{"t":-4.151,"f":100.0153},{"t":-3.992,"f":100.0151},{"t":-3.954,"f":100.0133},{"t":-3.733,"f":100.0294},
{"t":-3.496,"f":100.0294},{"t":-3.571,"f":100.0137},{"t":-3.406,"f":100.0210},{"t":-3.282,"f":100.0153},{"t":-3.217,"f":100.0149},{"t":-3.112,"f":100.0276},{"t":-3.077,"f":100.0185},{"t":-2.998,"f":100.0219},{"t":-2.938,"f":100.0305},{"t":-2.878,"f":100.0203},
{"t":-3.028,"f":100.0564},{"t":-2.998,"f":100.0414},{"t":-3.232,"f":100.0347},{"t":-6.373,"f":100.0290},{"t":-6.271,"f":100.0290},{"t":-6.266,"f":100.0327},{"t":-6.373,"f":100.0164},{"t":-6.166,"f":100.0115},{"t":-6.151,"f":100.0094},{"t":-6.024,"f":100.0173},
{"t":-5.905,"f":100.0114},{"t":-5.833,"f":100.0086},{"t":-5.745,"f":100.0067},{"t":-5.354,"f":100.0106},{"t":-5.334,"f":100.0089},{"t":-5.090,"f":100.0091},{"t":-4.971,"f":100.0089},{"t":-5.001,"f":100.0044},{"t":-4.868,"f":100.0023},{"t":-4.672,"f":100.0070},
{"t":-4.497,"f":100.0019},{"t":-4.306,"f":100.0039},{"t":-3.683,"f":100.0080},{"t":-3.626,"f":100.0073},{"t":-3.177,"f":100.0033},{"t":-2.878,"f":100.0058},{"t":-2.955,"f":99.9965},{"t":-3.558,"f":99.9987},{"t":-6.151,"f":100.0016},{"t":-6.067,"f":99.9928},
{"t":-6.102,"f":99.9905},{"t":-5.907,"f":99.9901},{"t":-6.174,"f":99.9821},{"t":-6.229,"f":99.9757},{"t":-6.149,"f":99.9720},{"t":-6.019,"f":99.9713},{"t":-5.800,"f":99.9725},{"t":-5.618,"f":99.9891},{"t":-5.491,"f":99.9912},{"t":-5.608,"f":99.9653},
{"t":-6.348,"f":99.9611},{"t":-5.170,"f":100.0012},{"t":-5.133,"f":99.9764},{"t":-4.963,"f":99.9748},{"t":-4.891,"f":99.9744},{"t":-4.973,"f":99.9669},{"t":-4.928,"f":99.9684},{"t":-4.864,"f":99.9844},{"t":-4.746,"f":99.9634},{"t":-4.535,"f":99.9638},
{"t":-4.555,"f":99.9791},{"t":-4.497,"f":99.9891},{"t":-4.278,"f":99.9779},{"t":-4.032,"f":99.9782},{"t":-3.932,"f":99.9870},{"t":-3.932,"f":99.9700},{"t":-3.830,"f":99.9697},{"t":-3.740,"f":99.9571},{"t":-4.216,"f":99.9564},{"t":-5.275,"f":99.9559},
{"t":-3.618,"f":99.9753},{"t":-3.568,"f":99.9674},{"t":-3.523,"f":99.9802},{"t":-3.466,"f":99.9755},{"t":-3.342,"f":99.9782},{"t":-3.342,"f":99.9715},{"t":-3.264,"f":99.9765},{"t":-3.264,"f":99.9611},{"t":-3.102,"f":99.9823},{"t":-2.863,"f":99.9718},
{"t":-2.818,"f":99.9700},{"t":-2.953,"f":99.9678},{"t":-2.908,"f":99.9639},{"t":-3.571,"f":99.9936},{"t":-3.523,"f":99.9925},{"t":-3.272,"f":99.9907},{"t":-4.019,"f":99.9907},{"t":-5.683,"f":99.9967},{"t":-2.873,"f":99.9939}
],
"bin": [
{"t":-6.32,"f":100.0328,"hi":100.0378,"lo":100.0278},{"t":-6.16,"f":100.0163,"hi":100.0202,"lo":100.0123},{"t":-6.00,"f":99.9831,"hi":99.9955,"lo":99.9704},{"t":-5.84,"f":100.0176,"hi":100.0212,"lo":100.0142},
{"t":-5.68,"f":99.9813,"hi":99.9877,"lo":99.9750},{"t":-5.52,"f":100.0463,"hi":100.0618,"lo":100.0308},{"t":-5.36,"f":100.0299,"hi":100.0343,"lo":100.0252},{"t":-5.20,"f":99.9901,"hi":99.9959,"lo":99.9844},
{"t":-5.04,"f":99.9810,"hi":99.9908,"lo":99.9715},{"t":-4.88,"f":99.9962,"hi":100.0013,"lo":99.9911},{"t":-4.72,"f":99.9978,"hi":100.0041,"lo":99.9917},{"t":-4.56,"f":100.0007,"hi":100.0105,"lo":99.9908},
{"t":-4.40,"f":100.0477,"hi":100.0574,"lo":100.0380},{"t":-4.24,"f":100.0039,"hi":100.0101,"lo":99.9975},{"t":-4.08,"f":99.9841,"hi":99.9946,"lo":99.9736},{"t":-3.92,"f":100.0200,"hi":100.0279,"lo":100.0122},
{"t":-3.76,"f":99.9981,"hi":100.0031,"lo":99.9930},{"t":-3.60,"f":99.9874,"hi":99.9940,"lo":99.9809},{"t":-3.44,"f":100.0436,"hi":100.0501,"lo":100.0372},{"t":-3.28,"f":99.9846,"hi":99.9919,"lo":99.9772},
{"t":-3.12,"f":99.9990,"hi":100.0057,"lo":99.9927},{"t":-2.96,"f":99.9886,"hi":99.9933,"lo":99.9839}
],
"ired": [
{"t":-6.4,"f":100.0},{"t":-6.16,"f":99.9997},{"t":-6.0,"f":99.9984},{"t":-5.2,"f":99.9962},{"t":-4.218,"f":99.9932},{"t":-2.958,"f":99.9904},{"t":-2.886,"f":99.953}
],
"inm": [
{"t":-6.4,"f":100.0},{"t":-2.888,"f":100.0},{"t":-2.874,"f":99.997},{"t":-2.866,"f":99.990},{"t":-2.831,"f":99.953}
]
},
"resolve": {"scale": {"x": "independent", "y": "independent"}},
"layer": [
{"data": {"name": "one"},
 "mark": {"type": "rect", "fill": "#00ffff", "stroke": "black", "strokeWidth": 3},
 "encoding": {
  "x": {"datum": -6.404, "type": "quantitative", "scale": {"domain": [-10, 10], "nice": false, "zero": false}, "axis": null},
  "x2": {"datum": -2.739},
  "y": {"datum": 100.0626, "type": "quantitative", "scale": {"domain": [97.66, 100.548], "nice": false, "zero": false}, "axis": null},
  "y2": {"datum": 99.9504}}},
{"data": {"name": "kep"},
 "mark": {"type": "circle", "size": 125, "color": "#a9a9a9", "opacity": 1},
 "encoding": {
  "x": {"field": "t", "type": "quantitative", "scale": {"domain": [-10, 10], "nice": false, "zero": false},
   "axis": {"orient": "bottom", "values": [-10,-9.5,-9,-8.5,-8,-7.5,-7,-6.5,-6,-5.5,-5,-4.5,-4,-3.5,-3,-2.5,-2,-1.5,-1,-0.5,0,0.5,1,1.5,2,2.5,3,3.5,4,4.5,5,5.5,6,6.5,7,7.5,8,8.5,9,9.5,10],
    "labelExpr": "abs(datum.value % 2) < 0.001 ? '' + datum.value : ''",
    "tickSize": {"condition": {"test": "abs(datum.value % 2) < 0.001", "value": -33}, "value": -17},
    "tickColor": "#333", "tickWidth": 2, "domainColor": "#222", "domainWidth": 2, "grid": false,
    "labelFont": "Liberation Serif", "labelFontSize": 47, "labelColor": "black", "labelPadding": 60, "labelFlush": false, "labelOverlap": false, "labelBound": false,
    "title": "Time around mid-transit [hours]", "titleFont": "Liberation Serif", "titleFontSize": 77, "titleFontWeight": "normal", "titleColor": "black",
    "titleX": 853, "titleY": 154, "titleBaseline": "alphabetic", "titleAlign": "center"}},
  "y": {"field": "f", "type": "quantitative", "scale": {"domain": [97.66, 100.548], "nice": false, "zero": false},
   "axis": {"orient": "left", "values": [97.7,97.8,97.9,98,98.1,98.2,98.3,98.4,98.5,98.6,98.7,98.8,98.9,99,99.1,99.2,99.3,99.4,99.5,99.6,99.7,99.8,99.9,100,100.1,100.2,100.3,100.4,100.5],
    "labelExpr": "abs(datum.value*2 - round(datum.value*2)) < 0.001 ? format(datum.value, '.1f') : ''",
    "tickSize": {"condition": {"test": "abs(datum.value*2 - round(datum.value*2)) < 0.001", "value": -33}, "value": -17},
    "tickColor": "#333", "tickWidth": 2, "domainColor": "#222", "domainWidth": 2, "grid": false,
    "labelFont": "Liberation Serif", "labelFontSize": 47, "labelColor": "black", "labelPadding": 67, "labelFlush": false, "labelOverlap": false, "labelBound": false,
    "title": "Stellar Brightness [%]", "titleFont": "Liberation Serif", "titleFontSize": 77, "titleFontWeight": "normal", "titleColor": "black",
    "titleX": -155, "titleY": 857, "titleBaseline": "alphabetic", "titleAlign": "center", "titleAngle": -90}}}},
{"data": {"name": "nm"},
 "mark": {"type": "line", "color": "black", "strokeWidth": 3.5, "strokeDash": [11, 7], "interpolate": "monotone"},
 "encoding": {
  "x": {"field": "t", "type": "quantitative", "scale": {"domain": [-10, 10], "nice": false, "zero": false}, "axis": null},
  "y": {"field": "f", "type": "quantitative", "scale": {"domain": [97.66, 100.548], "nice": false, "zero": false}, "axis": null}}},
{"data": {"name": "red"},
 "mark": {"type": "line", "color": "#ff0000", "strokeWidth": 4.5, "interpolate": "monotone"},
 "encoding": {
  "x": {"field": "t", "type": "quantitative", "scale": {"domain": [-10, 10], "nice": false, "zero": false},
   "axis": {"orient": "top", "values": [-10,-9.5,-9,-8.5,-8,-7.5,-7,-6.5,-6,-5.5,-5,-4.5,-4,-3.5,-3,-2.5,-2,-1.5,-1,-0.5,0,0.5,1,1.5,2,2.5,3,3.5,4,4.5,5,5.5,6,6.5,7,7.5,8,8.5,9,9.5,10],
    "labels": false, "title": null, "grid": false,
    "tickSize": {"condition": {"test": "abs(datum.value % 2) < 0.001", "value": -33}, "value": -17},
    "tickColor": "#333", "tickWidth": 2, "domainColor": "#222", "domainWidth": 2}},
  "y": {"field": "f", "type": "quantitative", "scale": {"domain": [97.66, 100.548], "nice": false, "zero": false},
   "axis": {"orient": "right", "values": [97.7,97.8,97.9,98,98.1,98.2,98.3,98.4,98.5,98.6,98.7,98.8,98.9,99,99.1,99.2,99.3,99.4,99.5,99.6,99.7,99.8,99.9,100,100.1,100.2,100.3,100.4,100.5],
    "labels": false, "title": null, "grid": false,
    "tickSize": {"condition": {"test": "abs(datum.value*2 - round(datum.value*2)) < 0.001", "value": -33}, "value": -17},
    "tickColor": "#333", "tickWidth": 2, "domainColor": "#222", "domainWidth": 2}}}},
{"data": {"name": "conn"},
 "mark": {"type": "rule", "color": "black", "strokeWidth": 3},
 "encoding": {
  "x": {"field": "t", "type": "quantitative", "scale": {"domain": [-10, 10], "nice": false, "zero": false}, "axis": null},
  "x2": {"field": "t2"},
  "y": {"field": "f", "type": "quantitative", "scale": {"domain": [97.66, 100.548], "nice": false, "zero": false}, "axis": null},
  "y2": {"field": "f2"}}},
{"data": {"name": "one"},
 "mark": {"type": "rect", "fill": "white", "stroke": "black", "strokeWidth": 3},
 "encoding": {
  "x": {"datum": -8.993, "type": "quantitative", "scale": {"domain": [-10, 10], "nice": false, "zero": false}, "axis": null},
  "x2": {"datum": 0.274},
  "y": {"datum": 99.4948, "type": "quantitative", "scale": {"domain": [97.66, 100.548], "nice": false, "zero": false}, "axis": null},
  "y2": {"datum": 98.8761}}},
{"data": {"name": "ins"},
 "mark": {"type": "circle", "size": 36, "color": "#a9a9a9", "opacity": 1},
 "encoding": {
  "x": {"field": "t", "type": "quantitative", "scale": {"domain": [-6.4, -2.73], "range": [84.7, 864.6], "nice": false, "zero": false}, "axis": null},
  "y": {"field": "f", "type": "quantitative", "scale": {"domain": [99.953, 100.0655], "range": [1005.5, 633.4], "nice": false, "zero": false}, "axis": null}}},
{"data": {"name": "bin"},
 "mark": {"type": "rule", "color": "#555", "strokeWidth": 1.3},
 "encoding": {
  "x": {"field": "t", "type": "quantitative", "scale": {"domain": [-6.4, -2.73], "range": [84.7, 864.6], "nice": false, "zero": false}, "axis": null},
  "y": {"field": "lo", "type": "quantitative", "scale": {"domain": [99.953, 100.0655], "range": [1005.5, 633.4], "nice": false, "zero": false}, "axis": null},
  "y2": {"field": "hi"}}},
{"data": {"name": "bin"},
 "mark": {"type": "tick", "orient": "horizontal", "size": 20, "thickness": 1.3, "color": "#555", "opacity": 1},
 "encoding": {
  "x": {"field": "t", "type": "quantitative", "scale": {"domain": [-6.4, -2.73], "range": [84.7, 864.6], "nice": false, "zero": false}, "axis": null},
  "y": {"field": "lo", "type": "quantitative", "scale": {"domain": [99.953, 100.0655], "range": [1005.5, 633.4], "nice": false, "zero": false}, "axis": null}}},
{"data": {"name": "bin"},
 "mark": {"type": "tick", "orient": "horizontal", "size": 20, "thickness": 1.3, "color": "#555", "opacity": 1},
 "encoding": {
  "x": {"field": "t", "type": "quantitative", "scale": {"domain": [-6.4, -2.73], "range": [84.7, 864.6], "nice": false, "zero": false}, "axis": null},
  "y": {"field": "hi", "type": "quantitative", "scale": {"domain": [99.953, 100.0655], "range": [1005.5, 633.4], "nice": false, "zero": false}, "axis": null}}},
{"data": {"name": "bin"},
 "mark": {"type": "circle", "size": 150, "color": "black", "opacity": 1},
 "encoding": {
  "x": {"field": "t", "type": "quantitative", "scale": {"domain": [-6.4, -2.73], "range": [84.7, 864.6], "nice": false, "zero": false}, "axis": null},
  "y": {"field": "f", "type": "quantitative", "scale": {"domain": [99.953, 100.0655], "range": [1005.5, 633.4], "nice": false, "zero": false}, "axis": null}}},
{"data": {"name": "inm"},
 "mark": {"type": "line", "color": "black", "strokeWidth": 3, "strokeDash": [10, 6]},
 "encoding": {
  "x": {"field": "t", "type": "quantitative", "scale": {"domain": [-6.4, -2.73], "range": [84.7, 864.6], "nice": false, "zero": false}, "axis": null},
  "y": {"field": "f", "type": "quantitative", "scale": {"domain": [99.953, 100.0655], "range": [1005.5, 633.4], "nice": false, "zero": false}, "axis": null}}},
{"data": {"name": "ired"},
 "mark": {"type": "line", "color": "#ff0000", "strokeWidth": 3},
 "encoding": {
  "x": {"field": "t", "type": "quantitative", "scale": {"domain": [-6.4, -2.73], "range": [84.7, 864.6], "nice": false, "zero": false}, "axis": null},
  "y": {"field": "f", "type": "quantitative", "scale": {"domain": [99.953, 100.0655], "range": [1005.5, 633.4], "nice": false, "zero": false}, "axis": null}}},
{"data": {"name": "one"},
 "mark": {"type": "rule", "color": "black", "strokeWidth": 7, "strokeCap": "butt"},
 "encoding": {
  "x": {"datum": -6.589, "type": "quantitative", "scale": {"domain": [-10, 10], "nice": false, "zero": false}, "axis": null},
  "x2": {"datum": -3.70},
  "y": {"datum": 98.6646, "type": "quantitative", "scale": {"domain": [97.66, 100.548], "nice": false, "zero": false}, "axis": null},
  "y2": {"datum": 99.062}}},
{"data": {"name": "one"},
 "mark": {"type": "point", "shape": "M0,0L0.5,1L-0.5,1Z", "size": 4356, "filled": true, "color": "black", "opacity": 1, "angle": 45},
 "encoding": {
  "x": {"datum": -3.484, "type": "quantitative", "scale": {"domain": [-10, 10], "nice": false, "zero": false}, "axis": null},
  "y": {"datum": 99.0943, "type": "quantitative", "scale": {"domain": [97.66, 100.548], "nice": false, "zero": false}, "axis": null}}},
{"data": {"name": "one"},
 "mark": {"type": "text", "text": ["slope indicates", "an exomoon"], "font": "Liberation Serif", "fontSize": 76, "fontWeight": "bold", "color": "#ff2a00", "align": "center", "baseline": "alphabetic", "lineHeight": 95},
 "encoding": {
  "x": {"datum": -6.055, "type": "quantitative", "scale": {"domain": [-10, 10], "nice": false, "zero": false}, "axis": null},
  "y": {"datum": 98.5454, "type": "quantitative", "scale": {"domain": [97.66, 100.548], "nice": false, "zero": false}, "axis": null}}},
{"data": {"name": "one"},
 "mark": {"type": "circle", "size": 90, "color": "#a9a9a9", "opacity": 1},
 "encoding": {
  "x": {"datum": -6.564, "type": "quantitative", "scale": {"domain": [-10, 10], "nice": false, "zero": false}, "axis": null},
  "y": {"datum": 100.4698, "type": "quantitative", "scale": {"domain": [97.66, 100.548], "nice": false, "zero": false}, "axis": null}}},
{"data": {"name": "one"},
 "mark": {"type": "rule", "color": "black", "strokeWidth": 3.5, "strokeDash": [11, 7]},
 "encoding": {
  "x": {"datum": -6.772, "type": "quantitative", "scale": {"domain": [-10, 10], "nice": false, "zero": false}, "axis": null},
  "x2": {"datum": -6.355},
  "y": {"datum": 100.3872, "type": "quantitative", "scale": {"domain": [97.66, 100.548], "nice": false, "zero": false}, "axis": null}}},
{"data": {"name": "one"},
 "mark": {"type": "rule", "color": "#ff0000", "strokeWidth": 4.5},
 "encoding": {
  "x": {"datum": -6.772, "type": "quantitative", "scale": {"domain": [-10, 10], "nice": false, "zero": false}, "axis": null},
  "x2": {"datum": -6.355},
  "y": {"datum": 100.3052, "type": "quantitative", "scale": {"domain": [97.66, 100.548], "nice": false, "zero": false}, "axis": null}}},
{"data": {"name": "one"},
 "mark": {"type": "text", "text": "detrended", "font": "Liberation Serif", "fontSize": 54, "color": "black", "align": "left", "baseline": "alphabetic"},
 "encoding": {
  "x": {"datum": -5.855, "type": "quantitative", "scale": {"domain": [-10, 10], "nice": false, "zero": false}, "axis": null},
  "y": {"datum": 100.4271, "type": "quantitative", "scale": {"domain": [97.66, 100.548], "nice": false, "zero": false}, "axis": null}}},
{"data": {"name": "one"},
 "mark": {"type": "text", "text": "Kepler", "font": "Liberation Serif", "fontSize": 54, "fontStyle": "italic", "color": "black", "align": "left", "baseline": "alphabetic"},
 "encoding": {
  "x": {"datum": -3.131, "type": "quantitative", "scale": {"domain": [-10, 10], "nice": false, "zero": false}, "axis": null},
  "y": {"datum": 100.4271, "type": "quantitative", "scale": {"domain": [97.66, 100.548], "nice": false, "zero": false}, "axis": null}}},
{"data": {"name": "one"},
 "mark": {"type": "text", "text": "data", "font": "Liberation Serif", "fontSize": 54, "color": "black", "align": "left", "baseline": "alphabetic"},
 "encoding": {
  "x": {"datum": -1.210, "type": "quantitative", "scale": {"domain": [-10, 10], "nice": false, "zero": false}, "axis": null},
  "y": {"datum": 100.4271, "type": "quantitative", "scale": {"domain": [97.66, 100.548], "nice": false, "zero": false}, "axis": null}}},
{"data": {"name": "one"},
 "mark": {"type": "text", "text": "no moon", "font": "Liberation Serif", "fontSize": 54, "color": "black", "align": "left", "baseline": "alphabetic"},
 "encoding": {
  "x": {"datum": -5.855, "type": "quantitative", "scale": {"domain": [-10, 10], "nice": false, "zero": false}, "axis": null},
  "y": {"datum": 100.3496, "type": "quantitative", "scale": {"domain": [97.66, 100.548], "nice": false, "zero": false}, "axis": null}}},
{"data": {"name": "one"},
 "mark": {"type": "text", "text": "Ganymede-sized moon", "font": "Liberation Serif", "fontSize": 54, "color": "black", "align": "left", "baseline": "alphabetic"},
 "encoding": {
  "x": {"datum": -5.855, "type": "quantitative", "scale": {"domain": [-10, 10], "nice": false, "zero": false}, "axis": null},
  "y": {"datum": 100.2553, "type": "quantitative", "scale": {"domain": [97.66, 100.548], "nice": false, "zero": false}, "axis": null}}},
{"data": {"name": "one"},
 "mark": {"type": "text", "text": "René Heller", "font": "Open Sans", "fontSize": 94, "fontWeight": 600, "color": "black", "align": "left", "baseline": "alphabetic"},
 "encoding": {
  "x": {"datum": 6.40, "type": "quantitative", "scale": {"domain": [-10, 10], "nice": false, "zero": false}, "axis": null},
  "y": {"datum": 97.362, "type": "quantitative", "scale": {"domain": [97.66, 100.548], "nice": false, "zero": false}, "axis": null}}}
]
}
